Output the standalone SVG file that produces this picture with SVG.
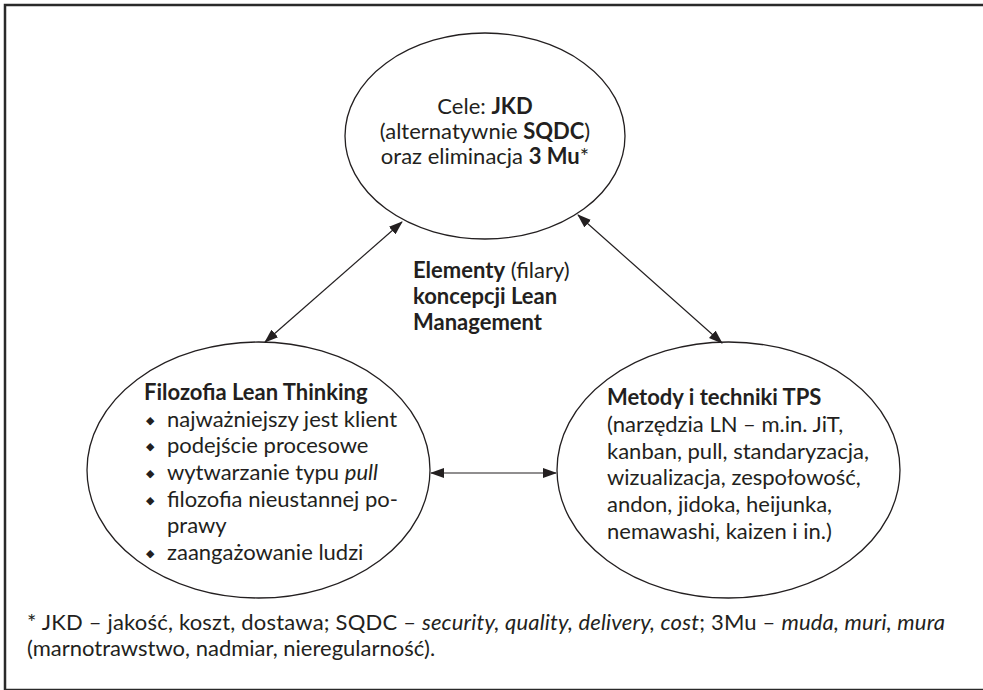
<svg xmlns="http://www.w3.org/2000/svg" width="983" height="690" viewBox="0 0 983 690">
<style>
  text { font-family: Lato, "Liberation Sans", sans-serif; font-size: 22px; fill: #231f20; }
  .b { font-weight: bold; }
  .i { font-style: italic; }
  .bul { font-family: "DejaVu Sans", sans-serif; font-size: 11px; }
  .node ellipse { fill: none; stroke: #231f20; stroke-width: 1.3; }
  .conn line { stroke: #231f20; stroke-width: 1.2; marker-start: url(#ah); marker-end: url(#ah); }
</style>
<defs>
  <marker id="ah" viewBox="0 0 14 10" refX="13" refY="5" markerWidth="14" markerHeight="10" markerUnits="userSpaceOnUse" orient="auto-start-reverse">
    <path d="M0,0 L14,5 L0,10 Z" fill="#231f20"/>
  </marker>
</defs>
<rect x="0" y="0" width="983" height="690" fill="#ffffff"/>
<rect x="5" y="5" width="995" height="685" fill="none" stroke="#2a2a2a" stroke-width="2.5"/>

<g id="cele" class="node">
  <ellipse cx="485" cy="136" rx="140" ry="103"/>
  <text x="485" y="114" text-anchor="middle">Cele: <tspan class="b">JKD</tspan></text>
  <text x="485" y="139" text-anchor="middle">(alternatywnie <tspan class="b">SQDC</tspan>)</text>
  <text x="485" y="164" text-anchor="middle">oraz eliminacja <tspan class="b">3 Mu</tspan>*</text>
</g>

<g id="elementy">
  <text x="413" y="278"><tspan class="b">Elementy</tspan> (filary)</text>
  <text x="413" y="304" class="b">koncepcji Lean</text>
  <text x="413" y="330" class="b">Management</text>
</g>

<g id="filozofia" class="node">
  <ellipse cx="258.5" cy="470" rx="171.5" ry="128"/>
  <text x="144" y="400" class="b">Filozofia Lean Thinking</text>
  <text x="146" y="424" class="bul">◆</text>
  <text x="167" y="427">najważniejszy jest klient</text>
  <text x="146" y="450" class="bul">◆</text>
  <text x="167" y="453">podejście procesowe</text>
  <text x="146" y="477" class="bul">◆</text>
  <text x="167" y="480">wytwarzanie typu <tspan class="i">pull</tspan></text>
  <text x="146" y="504" class="bul">◆</text>
  <text x="167" y="507">filozofia nieustannej po-</text>
  <text x="167" y="533">prawy</text>
  <text x="146" y="557" class="bul">◆</text>
  <text x="167" y="560">zaangażowanie ludzi</text>
</g>

<g id="metody" class="node">
  <ellipse cx="728.5" cy="470" rx="171.5" ry="128"/>
  <text x="607" y="405" class="b">Metody i techniki TPS</text>
  <text x="607" y="432">(narzędzia LN – m.in. JiT,</text>
  <text x="607" y="459">kanban, pull, standaryzacja,</text>
  <text x="607" y="485">wizualizacja, zespołowość,</text>
  <text x="607" y="512">andon, jidoka, heijunka,</text>
  <text x="607" y="539">nemawashi, kaizen i in.)</text>
</g>

<g id="connectors" class="conn">
  <line x1="265" y1="342" x2="402" y2="222"/>
  <line x1="722" y1="343" x2="578" y2="215"/>
  <line x1="431" y1="473" x2="556" y2="473"/>
</g>

<g id="footnote">
  <text x="27" y="630" textLength="918" lengthAdjust="spacing">* JKD – jakość, koszt, dostawa; SQDC – <tspan class="i">security, quality, delivery, cost</tspan>; 3Mu – <tspan class="i">muda, muri, mura</tspan></text>
  <text x="27" y="656">(marnotrawstwo, nadmiar, nieregularność).</text>
</g>
</svg>
